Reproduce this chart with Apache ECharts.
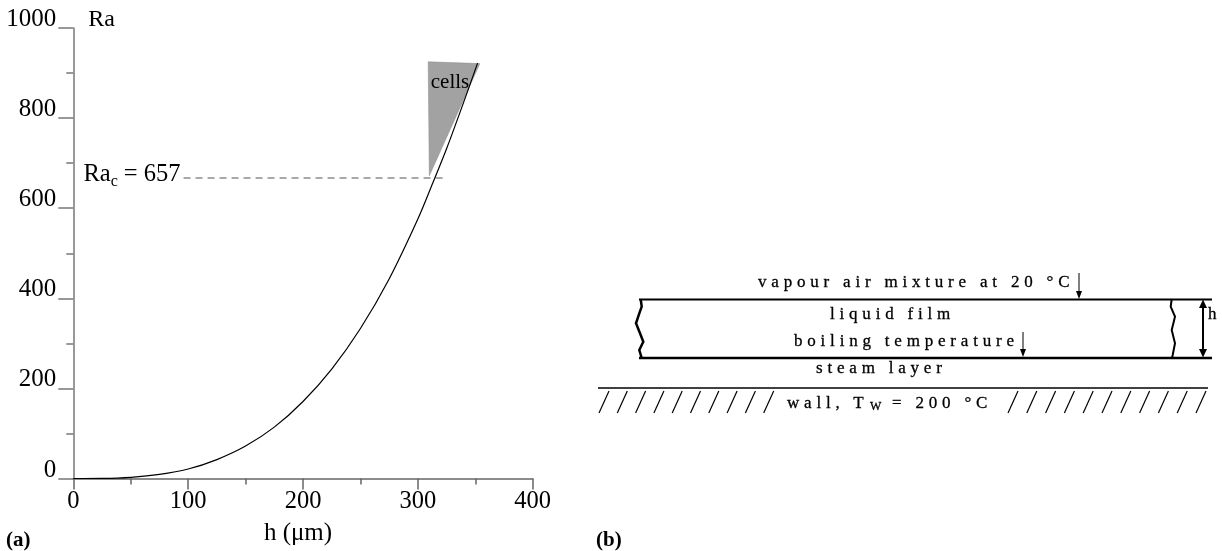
<!DOCTYPE html>
<html>
<head>
<meta charset="utf-8">
<script src="https://cdn.jsdelivr.net/npm/echarts@6/dist/echarts.min.js"></script>
<style>
  html, body { margin: 0; padding: 0; background: #fff; }
  #wrap { position: relative; width: 1222px; height: 551px; }
  #a, #b { position: absolute; left: 0; top: 0; width: 1222px; height: 551px; }
  #b { pointer-events: none; }
  #b text { letter-spacing: 4.8px; }
</style>
</head>
<body>
<div id="wrap"><div id="a"></div><div id="b"></div></div>
<script>
// ---- data ----
const hValues  = [0, 25, 50, 75, 100, 125, 150, 175, 200, 225, 250, 275, 300, 313, 325, 340, 352];
const raValues = [0, 0.3, 2.7, 9, 21, 42, 72, 114, 171, 243, 333, 443, 576, 656, 732, 836, 922];
const xTicks = [0, 100, 200, 300, 400];
const yTicks = [0, 200, 400, 600, 800, 1000];
const raCritical = 657;          // labelled value
const raCriticalLineLevel = 667; // level where the dashed line is drawn in the picture
const dashH = [96, 322];
const cellsH  = [309, 354, 310];
const cellsRa = [925, 921, 672];
const cellsLabelAt = [328, 879];

const SERIF = '"Liberation Serif", "Times New Roman", serif';

const chartA = echarts.init(document.getElementById('a'), null, {renderer: 'canvas'});
chartA.setOption({
  animation: false,
  backgroundColor: '#fff',
  grid: {left: 73.3, right: 1222 - 532.7, top: 28, bottom: 551 - 481.5},
  xAxis: {
    type: 'value', min: xTicks[0], max: xTicks[xTicks.length - 1], interval: 100,
    name: 'h (μm)', nameLocation: 'middle', nameGap: 55,
    nameTextStyle: {fontFamily: SERIF, fontSize: 25, color: '#000', verticalAlign: 'middle', padding: [0, 10, 0, 0]},
    axisLine: {show: true, onZero: false, lineStyle: {color: '#666', width: 1.5}},
    axisTick: {show: true, length: 11, lineStyle: {color: '#666', width: 1.5}},
    minorTick: {show: true, splitNumber: 2, length: 6, lineStyle: {color: '#666', width: 1.5}},
    axisLabel: {fontFamily: SERIF, fontSize: 24.5, color: '#000', margin: 11, lineHeight: 24, formatter: v => String(v)},
    splitLine: {show: false}
  },
  yAxis: {
    type: 'value', min: yTicks[0], max: yTicks[yTicks.length - 1], interval: 200,
    name: 'Ra', nameLocation: 'end', nameGap: 0,
    nameTextStyle: {fontFamily: SERIF, fontSize: 24, color: '#000', align: 'left', verticalAlign: 'bottom', lineHeight: 16, padding: [0, 0, 0, 15]},
    axisLine: {show: true, lineStyle: {color: '#777', width: 1.5}},
    axisTick: {show: true, length: 15, lineStyle: {color: '#777', width: 1.5}},
    minorTick: {show: true, splitNumber: 2, length: 7, lineStyle: {color: '#777', width: 1.5}},
    axisLabel: {fontFamily: SERIF, fontSize: 25, color: '#000', margin: 17, verticalAlign: 'bottom', lineHeight: 17, formatter: v => String(v)},
    splitLine: {show: false}
  },
  series: [
    {
      type: 'custom', name: 'cells', z: 1,
      coordinateSystem: 'cartesian2d',
      data: [0],
      renderItem: function (params, api) {
        const pts = cellsH.map((h, i) => api.coord([h, cellsRa[i]]));
        return {type: 'polygon', shape: {points: pts}, style: {fill: '#a2a2a2', stroke: '#888', lineWidth: 0.5}};
      },
      silent: true
    },
    {
      type: 'line', name: 'Ra', z: 3,
      data: hValues.map((h, i) => [h, raValues[i]]),
      smooth: 0.3, symbol: 'none',
      lineStyle: {color: '#000', width: 1.2}
    },
    {
      type: 'line', name: 'Ra_c', z: 2,
      data: dashH.map(h => [h, raCriticalLineLevel]),
      symbol: 'none',
      lineStyle: {color: '#555', width: 1.2, type: [7, 5]},
      silent: true
    },
    {
      type: 'scatter', name: 'Ra_c label', z: 4,
      data: [[dashH[0], raCriticalLineLevel]], symbolSize: 0,
      itemStyle: {opacity: 1, color: '#000'},
      label: {
        show: true, position: 'left', distance: 3, offset: [0, -3], color: '#000',
        formatter: '{a|Ra}{b|c}{a| = ' + raCritical + '}',
        rich: {
          a: {fontFamily: SERIF, fontSize: 24.5, color: '#000', lineHeight: 30},
          b: {fontFamily: SERIF, fontSize: 16, color: '#000', lineHeight: 14, verticalAlign: 'bottom'}
        }
      },
      silent: true
    },
    {
      type: 'scatter', name: 'cellsLabel', z: 4,
      data: [cellsLabelAt], symbolSize: 0,
      itemStyle: {opacity: 1, color: '#000'},
      label: {show: true, position: 'inside', formatter: 'cells', fontFamily: SERIF, fontSize: 21, color: '#000'},
      silent: true
    }
  ],
  graphic: [
    {type: 'text', left: 6, top: 530, style: {text: '(a)', fontFamily: SERIF, fontSize: 21, fontWeight: 'bold', fill: '#000'}},
    {type: 'text', left: 596, top: 530, style: {text: '(b)', fontFamily: SERIF, fontSize: 21, fontWeight: 'bold', fill: '#000'}}
  ]
});

// ---- panel (b): schematic of the film ----
const chartB = echarts.init(document.getElementById('b'), null, {renderer: 'svg'});
const els = [];
const T = (text, x, y, size) => ({
  type: 'text', x: x, y: y,
  style: {text: text, fontFamily: SERIF, fontSize: size || 17, fill: '#000', stroke: '#000', lineWidth: 0.3, align: 'left', verticalAlign: 'middle'}
});
const L = (x1, y1, x2, y2, w) => ({type: 'line', shape: {x1, y1, x2, y2}, style: {stroke: '#000', lineWidth: w || 1}});
const P = (pts) => ({type: 'polygon', shape: {points: pts}, style: {fill: '#000'}});
const PL = (pts, w) => ({type: 'polyline', shape: {points: pts}, style: {stroke: '#000', lineWidth: w, fill: null}});

els.push(T('vapour air mixture at 20 °C', 758, 281));
els.push(T('liquid film', 830, 313));
els.push(T('boiling temperature', 794, 340));
els.push(T('steam layer', 816, 367));
els.push(T('wall, T', 787, 402));
els.push(T('W', 870, 406, 12));
els.push(T('= 200 °C', 892, 402));
els.push(T('h', 1208, 313));
// film boundaries
els.push(L(639, 299.5, 1212, 299.5, 2));
els.push(L(639, 358, 1212, 358, 2.5));
// wavy cut edges
els.push(PL([[640.7, 299], [641.7, 306.7], [639.3, 313.3], [636, 323.3], [640, 333.3], [643.3, 341.7], [639.3, 350], [641.7, 358]], 2.5));
els.push(PL([[1171.7, 299], [1170.7, 306.7], [1175, 316.7], [1171.7, 330], [1175, 343.3], [1172.7, 355], [1172, 358]], 2));
// arrows
els.push(L(1079, 273, 1079, 293, 1));
els.push(P([[1076, 291], [1082, 291], [1079, 299]]));
els.push(L(1023, 332, 1023, 351, 1));
els.push(P([[1020, 349], [1026, 349], [1023, 357]]));
els.push(L(1203, 305, 1203, 352, 2));
els.push(P([[1199, 308], [1207, 308], [1203, 299.5]]));
els.push(P([[1199, 349], [1207, 349], [1203, 357.5]]));
// wall
els.push(L(598, 388, 1208, 388, 1.5));
for (let i = 0; i < 10; i++) { const xb = 599 + i * 18.3; els.push(L(xb, 413, xb + 10, 391, 1.2)); }
for (let i = 0; i < 11; i++) { const xb = 1008 + i * 18.8; els.push(L(xb, 413, xb + 10, 391, 1.2)); }

chartB.setOption({animation: false, graphic: els});
</script>
</body>
</html>
